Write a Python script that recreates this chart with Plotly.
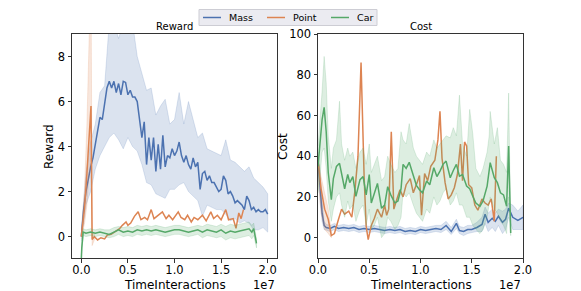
import plotly.graph_objects as go

# ---------------- data (x in units of 1e7 TimeInteractions) ----------------
# Reward: Mass
mass_r_x = [i * 0.025 for i in range(81)]
mass_r_y = [0.0, 1.2, 2.0, 2.6, 3.1, 3.5, 4.1, 4.6, 5.3, 5.2,
            5.9, 6.6, 6.9, 6.6, 6.9, 6.4, 6.8, 6.3, 6.9, 6.85,
            6.3, 6.5, 6.2, 6.2, 6.0, 5.3, 4.4, 5.1, 3.2, 4.4,
            3.4, 4.4, 2.9, 4.1, 3.0, 4.5, 3.1, 3.6, 3.5, 3.9,
            3.6, 3.8, 4.2, 3.6, 3.3, 3.6, 3.2, 3.0, 3.5, 3.1,
            3.3, 2.1, 2.8, 2.9, 2.5, 2.7, 2.4, 2.4, 2.2, 2.0,
            2.1, 2.7, 2.5, 1.9, 2.0, 1.8, 1.5, 1.6, 1.5, 1.4,
            1.2, 1.8, 1.6, 1.2, 1.3, 1.1, 1.2, 1.1, 1.1, 1.2, 1.0]
mass_r_band_x = [i * 0.05 for i in range(41)]
mass_r_up = [0.3, 2.8, 4.2, 5.0, 6.4, 6.7, 9.5, 9.5, 8.8, 9.5,
             9.5, 9.5, 8.0, 7.2, 6.5, 6.6, 5.4, 5.8, 6.1, 5.0,
             5.2, 6.4, 5.0, 6.0, 5.2, 4.4, 4.6, 3.9, 3.8, 3.7,
             3.6, 4.3, 3.4, 3.3, 3.1, 2.9, 3.1, 2.6, 2.4, 2.2, 1.9]
mass_r_lo = [-0.2, 1.4, 2.0, 3.0, 3.6, 4.0, 4.4, 4.6, 4.3, 3.9,
             4.4, 4.0, 3.8, 3.2, 2.4, 2.3, 1.9, 1.8, 1.7, 2.1,
             2.1, 2.3, 2.4, 2.0, 1.8, 1.6, 0.9, 1.4, 1.3, 1.2,
             1.2, 1.0, 0.7, 0.8, 0.6, 0.7, 0.6, 0.3, 0.3, 0.4, 0.2]

# Reward: Point
point_r_x = [0.0, 0.035, 0.06, 0.08, 0.104, 0.116, 0.14, 0.175, 0.21,
             0.25, 0.28, 0.32, 0.355, 0.41, 0.44, 0.48, 0.5, 0.53, 0.57,
             0.61, 0.64, 0.68, 0.71, 0.75, 0.78, 0.82, 0.87, 0.91, 0.94,
             0.98, 1.04, 1.07, 1.11, 1.14, 1.18, 1.21, 1.25, 1.3, 1.34,
             1.39, 1.42, 1.46, 1.5, 1.55, 1.58, 1.63, 1.66, 1.69, 1.715, 1.74]
point_r_y = [0.0, 1.3, 2.8, 4.3, 5.8, -0.13, 0.0, -0.15, -0.05,
             -0.1, 0.07, 0.1, 0.2, 0.35, 0.5, 0.65, 0.5, 0.6, 0.9,
             1.1, 0.75, 0.85, 0.75, 1.2, 0.8, 0.95, 1.1, 0.8, 0.95,
             0.75, 1.1, 0.85, 0.75, 0.95, 0.65, 0.85, 0.75, 0.95, 0.7,
             1.1, 0.8, 0.95, 0.75, 1.2, 0.75, 0.8, 0.37, 1.05, 0.8, 1.2]
point_r_band_x = [0.0, 0.035, 0.06, 0.08, 0.104, 0.116, 0.14]
point_r_up = [0.1, 2.2, 5.0, 8.0, 12.0, 0.2, 0.15]
point_r_lo = [-0.1, 0.6, 1.4, 2.6, 3.5, -0.4, -0.15]

# Reward: Car
car_r_x = [0.0, 0.005, 0.02, 0.05, 0.1, 0.15, 0.2, 0.25, 0.3, 0.35,
           0.4, 0.45, 0.5, 0.55, 0.6, 0.65, 0.7, 0.75, 0.8, 0.85,
           0.9, 0.95, 1.0, 1.05, 1.1, 1.15, 1.2, 1.25, 1.3, 1.35,
           1.4, 1.45, 1.5, 1.55, 1.6, 1.65, 1.7, 1.75, 1.8, 1.83, 1.85, 1.88]
car_r_y = [-1.0, -0.5, 0.2, 0.15, 0.2, 0.15, 0.2, 0.15, 0.1, 0.2,
           0.3, 0.2, 0.25, 0.2, 0.3, 0.25, 0.3, 0.25, 0.3, 0.25,
           0.2, 0.25, 0.3, 0.3, 0.25, 0.2, 0.25, 0.3, 0.2, 0.3,
           0.25, 0.2, 0.3, 0.15, 0.25, 0.2, 0.25, 0.3, 0.35, 0.2, 0.35, -0.3]
car_r_up = [-0.9, -0.3, 0.35, 0.3, 0.35, 0.3, 0.35, 0.3, 0.3, 0.4,
            0.45, 0.4, 0.45, 0.4, 0.5, 0.45, 0.5, 0.45, 0.5, 0.45,
            0.4, 0.45, 0.5, 0.5, 0.45, 0.4, 0.45, 0.5, 0.45, 0.55,
            0.5, 0.45, 0.55, 0.45, 0.55, 0.5, 0.55, 0.6, 0.65, 0.5, 0.6, -0.1]
car_r_lo = [-1.0, -0.7, 0.05, 0.0, 0.05, 0.0, 0.05, 0.0, -0.05, 0.0,
            0.1, 0.0, 0.05, 0.0, 0.1, 0.05, 0.1, 0.05, 0.1, 0.05,
            0.0, 0.05, 0.1, 0.1, 0.05, 0.0, 0.05, 0.1, -0.05, 0.05,
            0.0, -0.05, 0.0, -0.15, -0.05, -0.1, -0.05, 0.0, 0.05, -0.1, 0.05, -0.5]

# Cost: Mass
mass_c_x = [0.0, 0.02, 0.04, 0.06, 0.08, 0.12, 0.16, 0.2, 0.25, 0.3,
            0.35, 0.4, 0.45, 0.5, 0.55, 0.6, 0.65, 0.7, 0.75, 0.8,
            0.85, 0.9, 0.95, 1.0, 1.05, 1.1, 1.15, 1.2, 1.25, 1.3,
            1.35, 1.38, 1.42, 1.46, 1.5, 1.55, 1.6, 1.63, 1.66, 1.7,
            1.73, 1.76, 1.8, 1.83, 1.86, 1.9, 1.95, 2.0]
mass_c_y = [38, 25, 12, 6, 5, 4.5, 5.5, 4.5, 5, 4.5,
            5, 4, 4.5, 4, 4.5, 4, 3.5, 4, 3.5, 4,
            3, 3.5, 3, 4, 3.5, 4, 4.5, 4, 6, 3.0,
            7.0, 3.5, 3, 4, 4, 5, 6.5, 11.5, 7.5, 9.5,
            8, 10.5, 7.5, 9, 14.5, 10, 8.5, 10]
mass_c_up = [42, 32, 18, 8, 6.5, 6, 7, 6, 6.5, 6,
             6.5, 5.5, 6, 5.5, 6, 5.5, 5, 5.5, 5, 5.5,
             4.5, 5, 4.5, 5.5, 5, 5.5, 6, 6, 8, 5,
             9, 5.5, 5, 6, 6, 7.5, 10, 15, 12, 14,
             12, 14, 13, 14, 17, 16, 13, 16]
mass_c_lo = [34, 18, 8, 4, 3.5, 3, 4, 3, 3.5, 3,
             3.5, 2.5, 3, 2.5, 3, 2.5, 2, 2.5, 2, 2.5,
             1.5, 2, 1.5, 2.5, 2, 2.5, 3, 2.5, 4, 1.5,
             4.5, 2, 1, 2, 2.5, 3, 3, 7, 3, 5,
             3, 6, 2, 4, 10, 4, 4, 4]

# Cost: Point
point_c_x = [0.0, 0.03, 0.065, 0.1, 0.13, 0.16, 0.2, 0.23, 0.26, 0.3,
             0.33, 0.36, 0.39, 0.42, 0.45, 0.47, 0.49, 0.52, 0.55, 0.58,
             0.62, 0.65, 0.67, 0.69, 0.715, 0.74, 0.77, 0.8, 0.83, 0.86,
             0.9, 0.93, 0.97, 0.99, 1.01, 1.04, 1.07, 1.1, 1.14, 1.17,
             1.19, 1.21, 1.24, 1.27, 1.3, 1.33, 1.36, 1.39, 1.41, 1.43,
             1.45, 1.47, 1.5, 1.53, 1.56, 1.6, 1.63, 1.66, 1.69, 1.72, 1.74]
point_c_y = [38, 24, 14, 9, 1, 2, 9, 14, 11.5, 13,
             10, 23, 40, 86, 30, 5.5, -1, 6, 9.5, 14,
             10, 16, 11, 14, 52, 14, 19, 23.5, 20, 26,
             29, 22, 27.5, 30.5, 11, 31.5, 28, 35, 38, 48,
             62, 39, 27, 19, 21, 24.5, 31, 46, 28, 47,
             45, 26, 24.5, 16, 13.5, 19, 17, 16, 19, 8, 40]
point_c_band_x = [0.0, 0.03, 0.065, 0.1, 0.13]
point_c_up = [40, 30, 22, 14, 3]
point_c_lo = [30, 12, 4, 2, 0]

# Cost: Car
car_c_x = [0.0, 0.02, 0.04, 0.06, 0.08, 0.1, 0.13, 0.15, 0.18, 0.21,
           0.23, 0.26, 0.29, 0.31, 0.34, 0.37, 0.41, 0.44, 0.47, 0.5,
           0.52, 0.55, 0.58, 0.62, 0.65, 0.68, 0.71, 0.75, 0.78, 0.81,
           0.83, 0.86, 0.89, 0.93, 0.96, 0.99, 1.02, 1.06, 1.09, 1.13,
           1.16, 1.19, 1.22, 1.25, 1.29, 1.32, 1.35, 1.38, 1.41, 1.45,
           1.48, 1.51, 1.54, 1.58, 1.61, 1.65, 1.67, 1.68, 1.72, 1.75,
           1.78, 1.81, 1.84, 1.86, 1.88]
car_c_y = [35, 45, 58, 64, 52, 32, 18.6, 29, 35, 36.5,
           31, 24, 31, 27, 30, 20.3, 28.5, 30, 21, 31,
           17, 22, 26.6, 14.4, 16, 25, 21, 17, 18, 24,
           36, 34, 37, 30.5, 25.7, 23.5, 22, 27.8, 26, 34.3,
           30, 32.7, 36, 37.6, 29.4, 33, 36, 30.2, 31, 25.3,
           24, 20.3, 17, 15.4, 18, 25.3, 33.5, 36.8, 29.4, 27,
           22, 21, 15.4, 45, 2.3]
car_c_up = [45, 58, 72, 89, 76, 50, 34, 44, 48, 67,
            46, 38, 44, 40, 42, 34, 42, 44, 36, 46,
            32, 36, 40, 28, 30, 40, 36, 32, 34, 52,
            48, 46, 56, 44, 40, 38, 36, 42, 40, 48,
            44, 46, 48, 50, 49, 54, 50, 70, 46, 40,
            63, 51, 34, 30, 34, 42, 50, 62, 46, 54,
            38, 36, 32, 71, 4]
car_c_lo = [22, 30, 42, 44, 34, 18, 8, 14, 20, 22,
            16, 10, 18, 14, 16, 8, 14, 16, 6, 14,
            4, 6, 10, 0, 2, 10, 8, 4, 6, 10,
            22, 20, 22, 16, 12, 10, 8, 14, 12, 20,
            16, 18, 22, 24, 16, 18, 22, 16, 16, 10,
            10, 6, 4, 2, 4, 10, 16, 20, 14, 12,
            8, 6, 2, 20, 1]

series_names = ["Mass", "Point", "Car"]
colors = ["#4c72b0", "#dd8452", "#55a868"]
band_fill = ["rgba(76,114,176,0.2)", "rgba(221,132,82,0.2)", "rgba(85,168,104,0.2)"]
band_edge = ["rgba(76,114,176,0.3)", "rgba(221,132,82,0.3)", "rgba(85,168,104,0.3)"]

reward = [
    (mass_r_x, mass_r_y, mass_r_band_x, mass_r_up, mass_r_lo),
    (point_r_x, point_r_y, point_r_band_x, point_r_up, point_r_lo),
    (car_r_x, car_r_y, car_r_x, car_r_up, car_r_lo),
]
cost = [
    (mass_c_x, mass_c_y, mass_c_x, mass_c_up, mass_c_lo),
    (point_c_x, point_c_y, point_c_band_x, point_c_up, point_c_lo),
    (car_c_x, car_c_y, car_c_x, car_c_up, car_c_lo),
]

fig = go.Figure()
for panel, (xa, ya) in ((reward, ("x", "y")), (cost, ("x2", "y2"))):
    for i, (lx, ly, bx, bu, bl) in enumerate(panel):
        fig.add_trace(go.Scatter(
            x=list(bx) + list(bx)[::-1], y=list(bu) + list(bl)[::-1],
            fill="toself", fillcolor=band_fill[i],
            line=dict(color=band_edge[i], width=0.6),
            mode="lines", hoverinfo="skip", showlegend=False,
            xaxis=xa, yaxis=ya))
        fig.add_trace(go.Scatter(
            x=lx, y=ly, mode="lines", name=series_names[i],
            line=dict(color=colors[i], width=1.5),
            showlegend=False, xaxis=xa, yaxis=ya))

W, H = 581, 291
PT, PB = 34, 258          # plot area top / bottom in pixels
PH = PB - PT


def py(p):                # pixel row -> paper y
    return (PB - p) / PH


def px(p):                # pixel column -> paper x
    return p / W


font = "DejaVu Sans"
axis_common = dict(showgrid=False, zeroline=False, showline=True, mirror=True,
                   linecolor="#333333", linewidth=1, ticks="outside", ticklen=3.5,
                   tickcolor="#333333", tickfont=dict(size=11.5, color="black"),
                   automargin=False)

annotations = [
    dict(text="Reward", x=0.5, xref="x domain", y=py(26.5), yref="paper",
         xanchor="center", yanchor="middle", showarrow=False, font=dict(size=10)),
    dict(text="Cost", x=0.5, xref="x2 domain", y=py(26.5), yref="paper",
         xanchor="center", yanchor="middle", showarrow=False, font=dict(size=10)),
    dict(text="TimeInteractions", x=0.5, xref="x domain", y=py(284.5), yref="paper",
         xanchor="center", yanchor="middle", showarrow=False, font=dict(size=12)),
    dict(text="TimeInteractions", x=0.5, xref="x2 domain", y=py(284.5), yref="paper",
         xanchor="center", yanchor="middle", showarrow=False, font=dict(size=12)),
    dict(text="1e7", x=1, xref="x domain", y=py(284.5), yref="paper",
         xanchor="right", yanchor="middle", showarrow=False, font=dict(size=11.5)),
    dict(text="1e7", x=1, xref="x2 domain", y=py(284.5), yref="paper",
         xanchor="right", yanchor="middle", showarrow=False, font=dict(size=11.5)),
    dict(text="Reward", x=px(49), xref="paper", y=py(147), yref="paper",
         xanchor="center", yanchor="middle", textangle=-90, showarrow=False,
         font=dict(size=12)),
    dict(text="Cost", x=px(283), xref="paper", y=py(147), yref="paper",
         xanchor="center", yanchor="middle", textangle=-90, showarrow=False,
         font=dict(size=12)),
]

# legend drawn in the top margin
shapes = [dict(type="rect", xref="paper", yref="paper",
               x0=px(199), x1=px(377), y0=py(25.5), y1=py(9.5),
               fillcolor="#ebebf1", line=dict(color="#cdcdd4", width=1), layer="above")]
leg_y = 17.5
for k, name in enumerate(series_names):
    x0 = 203 + 64 * k
    shapes.append(dict(type="line", xref="paper", yref="paper",
                       x0=px(x0), x1=px(x0 + 18), y0=py(leg_y), y1=py(leg_y),
                       line=dict(color=colors[k], width=1.5), layer="above"))
    annotations.append(dict(text=name, x=px(x0 + 24), xref="paper", y=py(leg_y),
                            yref="paper", xanchor="left", yanchor="middle",
                            showarrow=False, font=dict(size=9.5)))

fig.update_layout(
    width=W, height=H,
    margin=dict(l=0, r=0, t=PT, b=H - PB, autoexpand=False),
    paper_bgcolor="white", plot_bgcolor="white",
    font=dict(family=font, color="black"),
    showlegend=False,
    xaxis=dict(domain=[72 / W, 277 / W], range=[-0.1, 2.1],
               tickvals=[0, 0.5, 1.0, 1.5, 2.0], tickformat=".1f",
               ticklabelstandoff=-2, anchor="y", **axis_common),
    yaxis=dict(domain=[0, 1], range=[-0.95, 9], tickvals=[0, 2, 4, 6, 8],
               anchor="x", **axis_common),
    xaxis2=dict(domain=[318 / W, 523 / W], range=[0, 2.0],
                tickvals=[0, 0.5, 1.0, 1.5, 2.0], tickformat=".1f",
                ticklabelstandoff=-2, anchor="y2", **axis_common),
    yaxis2=dict(domain=[0, 1], range=[-10, 100.01], tickvals=[0, 20, 40, 60, 80, 100],
                anchor="x2", **axis_common),
    annotations=annotations,
    shapes=shapes,
)

fig.write_html("out.html", config={"displayModeBar": False},
               post_script="document.body.style.margin='0px';")
